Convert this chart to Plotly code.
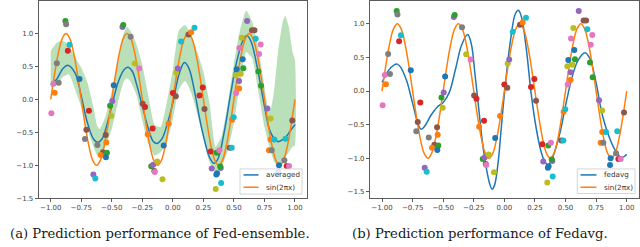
import plotly.graph_objects as go

# ---------------- data ----------------
# scatter observations (shared by both panels)
pt_x = [-0.995, -0.977, -0.968, -0.950, -0.935, -0.880, -0.874, -0.846, -0.860, -0.765,
        -0.687, -0.708, -0.720, -0.651, -0.635, -0.618, -0.572, -0.591, -0.540, -0.548,
        -0.550, -0.545, -0.514, -0.504, -0.496, -0.484, -0.413, -0.406, -0.346, -0.312,
        -0.276, -0.247, -0.228, -0.206, -0.166, -0.177, -0.161, -0.152, -0.148, -0.128,
        -0.085, -0.075, -0.035, 0.000, 0.024, 0.027, 0.040, 0.068, 0.128, 0.150,
        0.177, 0.218, 0.245, 0.259, 0.310, 0.359, 0.381, 0.318, 0.392, 0.388,
        0.362, 0.356, 0.395, 0.351, 0.466, 0.482, 0.485, 0.498, 0.518, 0.515,
        0.523, 0.542, 0.542, 0.556, 0.577, 0.572, 0.545, 0.564, 0.608, 0.648,
        0.668, 0.678, 0.719, 0.706, 0.700, 0.722, 0.774, 0.800, 0.800, 0.831,
        0.787, 0.809, 0.864, 0.869, 0.913, 0.923, 0.932, 0.951, 0.978]
pt_y = [-0.21, 0.24, 0.10, 0.55, 0.255, 1.19, 1.14, 0.83, 0.74, 0.31,
        -0.17, -0.46, -0.60, -1.14, -1.20, -0.69, -0.80, -0.845, -0.81, -0.876,
        -0.54, -0.652, -0.095, -0.248, -0.022, 0.215, 1.10, 1.13, 0.95, 0.547,
        0.47, -0.067, -0.115, -0.53, -0.443, -1.013, -0.99, -1.086, -1.10, -0.944,
        -1.21, -0.70, -0.37, 0.098, 0.05, 0.41, 0.47, 0.88, 0.985, 1.02,
        1.09, 0.06, 0.18, -0.145, -0.79, -0.81, -0.77, -1.05, -1.04, -1.02,
        -1.12, -1.14, -1.27, -1.36, -0.735, -0.735, -0.31, -0.272, 0.098, 0.367,
        0.46, 0.167, 0.28, 0.39, 0.474, 0.61, 0.78, 0.937, 1.19, 1.05,
        1.05, 0.92, 0.835, 0.69, 0.425, 0.206, -0.136, -0.29, -0.61, -0.61,
        -0.77, -0.77, -1.10, -1.00, -0.925, -0.598, -1.01, -1.01, -0.32]
pt_c = ["k", "k", "o", "y", "y", "g", "y", "c", "r", "b",
        "r", "n", "y", "p", "c", "y", "n", "o", "g", "b",
        "n", "o", "g", "l", "p", "b", "p", "g", "y", "l",
        "k", "n", "r", "o", "r", "g", "p", "n", "k", "l",
        "l", "b", "o", "r", "n", "l", "p", "c", "n", "o",
        "c", "r", "r", "n", "r", "g", "k", "p", "p", "g",
        "b", "b", "c", "l", "n", "c", "o", "c", "k", "l",
        "b", "o", "p", "l", "g", "b", "k", "l", "p", "n",
        "n", "c", "k", "k", "g", "g", "p", "l", "o", "c",
        "o", "y", "b", "b", "y", "c", "r", "k", "n"]
palette = {"b": "#1f77b4", "o": "#ff7f0e", "g": "#2ca02c", "r": "#d62728", "p": "#9467bd",
           "n": "#8c564b", "k": "#e377c2", "y": "#7f7f7f", "l": "#bcbd22", "c": "#17becf"}

# true curve
sin_x = [-1 + i / 32 for i in range(65)]
sin_y = [0, 0.383, 0.707, 0.924, 1, 0.924, 0.707, 0.383, 0, -0.383, -0.707, -0.924, -1, -0.924, -0.707, -0.383,
         0, 0.383, 0.707, 0.924, 1, 0.924, 0.707, 0.383, 0, -0.383, -0.707, -0.924, -1, -0.924, -0.707, -0.383,
         0, 0.383, 0.707, 0.924, 1, 0.924, 0.707, 0.383, 0, -0.383, -0.707, -0.924, -1, -0.924, -0.707, -0.383,
         0, 0.383, 0.707, 0.924, 1, 0.924, 0.707, 0.383, 0, -0.383, -0.707, -0.924, -1, -0.924, -0.707, -0.383,
         0]

# Fed-ensemble averaged prediction
avg_x = [-1.0, -0.95, -0.90, -0.86, -0.80, -0.75, -0.70, -0.65, -0.615, -0.58, -0.55, -0.50, -0.45,
         -0.40, -0.37, -0.33, -0.30, -0.25, -0.20, -0.16, -0.13, -0.09, -0.05, 0.0, 0.05, 0.094,
         0.13, 0.18, 0.22, 0.27, 0.30, 0.337, 0.37, 0.42, 0.47, 0.52, 0.57, 0.604, 0.64, 0.70,
         0.75, 0.80, 0.86, 0.92, 0.96, 1.0]
avg_y = [0.22, 0.31, 0.47, 0.52, 0.40, 0.05, -0.35, -0.60, -0.65, -0.60, -0.45, -0.10, 0.25,
         0.45, 0.49, 0.42, 0.25, -0.10, -0.45, -0.64, -0.67, -0.60, -0.40, -0.05, 0.38, 0.56,
         0.48, 0.10, -0.30, -0.70, -0.88, -0.97, -0.90, -0.50, 0.05, 0.55, 0.88, 0.97, 0.88, 0.40,
         -0.10, -0.50, -0.64, -0.58, -0.48, -0.38]

# Fed-ensemble uncertainty band
band_x = [-1.0, -0.95, -0.90, -0.85, -0.80, -0.75, -0.70, -0.65, -0.62, -0.60, -0.55, -0.50, -0.45,
          -0.40, -0.375, -0.35, -0.30, -0.25, -0.20, -0.15, -0.10, -0.05, 0.0, 0.05, 0.10, 0.15,
          0.20, 0.25, 0.30, 0.35, 0.40, 0.45, 0.50, 0.55, 0.60, 0.65, 0.70, 0.75, 0.78, 0.80,
          0.83, 0.86, 0.90, 0.92, 0.95, 0.98, 1.0]
band_hi = [0.74, 0.86, 0.89, 0.82, 0.64, 0.48, 0.26, -0.12, -0.40, -0.45, -0.25, 0.12, 0.60,
           1.02, 1.10, 1.05, 0.85, 0.52, 0.05, -0.38, -0.42, -0.05, 0.45, 1.05, 1.13, 0.98,
           0.72, 0.42, -0.05, -0.72, -0.55, -0.05, 0.55, 1.05, 1.35, 1.18, 0.78, 0.20, -0.12, -0.15,
           0.15, 0.70, 1.18, 1.27, 1.10, 0.72, 0.60]
band_lo = [0.18, 0.22, 0.34, 0.38, 0.15, -0.12, -0.45, -0.72, -0.85, -0.86, -0.70, -0.45, -0.05,
           0.28, 0.32, 0.28, 0.08, -0.32, -0.68, -0.85, -0.80, -0.65, -0.30, 0.15, 0.28, 0.10,
           -0.22, -0.60, -0.95, -1.10, -1.02, -0.78, -0.35, 0.25, 0.72, 0.62, 0.12, -0.42, -0.65, -0.78,
           -0.95, -1.00, -0.95, -0.88, -0.80, -0.72, -0.70]

# Fedavg prediction
fa_x = [-1.0, -0.95, -0.90, -0.875, -0.85, -0.80, -0.75, -0.70, -0.68, -0.65, -0.60, -0.55, -0.50,
        -0.45, -0.40, -0.35, -0.30, -0.27, -0.24, -0.21, -0.18, -0.15, -0.12, -0.10, -0.08, -0.05,
        -0.03, 0.0, 0.05, 0.09, 0.115, 0.14, 0.18, 0.22, 0.26, 0.30, 0.33, 0.355, 0.38, 0.42,
        0.46, 0.50, 0.55, 0.60, 0.66, 0.70, 0.75, 0.80, 0.85, 0.90, 0.95, 0.975, 1.0]
fa_y = [0.13, 0.30, 0.39, 0.40, 0.36, 0.16, -0.18, -0.52, -0.57, -0.52, -0.36, -0.24, -0.17,
        -0.02, 0.32, 0.68, 0.84, 0.70, 0.25, -0.25, -0.75, -1.12, -1.38, -1.46, -1.40, -1.05,
        -0.65, -0.05, 0.75, 1.15, 1.20, 1.10, 0.62, -0.05, -0.55, -0.90, -1.05, -1.10, -1.05, -0.85,
        -0.58, -0.22, 0.18, 0.45, 0.57, 0.48, 0.12, -0.35, -0.65, -0.86, -0.98, -0.98, -0.94]

legend_a = ["averaged", "sin(2πx)"]
legend_b = ["fedavg", "sin(2πx)"]
captions = ["(a) Prediction performance of Fed-ensemble.", "(b) Prediction performance of Fedavg."]
x_ticks = [-1.0, -0.75, -0.5, -0.25, 0.0, 0.25, 0.5, 0.75, 1.0]
y_ticks = [-1.5, -1.0, -0.5, 0.0, 0.5, 1.0]

# ---------------- figure ----------------
W, H = 640, 247
BLUE = "#1f77b4"
ORANGE = "#ff7f0e"
colors = [palette[c] for c in pt_c]

fig = go.Figure()

# panel (a)
fig.add_trace(go.Scatter(x=band_x + band_x[::-1], y=band_hi + band_lo[::-1], fill="toself",
                         fillcolor="rgba(44,160,44,0.33)", line=dict(width=0, shape="spline", smoothing=0.5),
                         mode="lines", showlegend=False, hoverinfo="skip", xaxis="x", yaxis="y"))
fig.add_trace(go.Scatter(x=avg_x, y=avg_y, mode="lines", name=legend_a[0], showlegend=False,
                         line=dict(color=BLUE, width=1.5, shape="spline"), xaxis="x", yaxis="y"))
fig.add_trace(go.Scatter(x=sin_x, y=sin_y, mode="lines", name=legend_a[1], showlegend=False,
                         line=dict(color=ORANGE, width=1.5, shape="spline"), xaxis="x", yaxis="y"))
fig.add_trace(go.Scatter(x=pt_x, y=pt_y, mode="markers", marker=dict(color=colors, size=6, line=dict(width=0)),
                         showlegend=False, xaxis="x", yaxis="y"))

# panel (b)
fig.add_trace(go.Scatter(x=fa_x, y=fa_y, mode="lines", name=legend_b[0], showlegend=False,
                         line=dict(color=BLUE, width=1.5, shape="spline"), xaxis="x2", yaxis="y2"))
fig.add_trace(go.Scatter(x=sin_x, y=sin_y, mode="lines", name=legend_b[1], showlegend=False,
                         line=dict(color=ORANGE, width=1.5, shape="spline"), xaxis="x2", yaxis="y2"))
fig.add_trace(go.Scatter(x=pt_x, y=pt_y, mode="markers", marker=dict(color=colors, size=6, line=dict(width=0)),
                         showlegend=False, xaxis="x2", yaxis="y2"))

tickfont = dict(family="DejaVu Sans", size=7, color="#444")
ax_common = dict(showgrid=False, zeroline=False, showline=True, mirror=True, linecolor="#333", linewidth=0.8,
                 ticks="outside", ticklen=3, tickwidth=0.8, tickcolor="#333", tickfont=tickfont)


def px(x):
    return x / W


def py(y):
    return 1 - y / H


# compact matplotlib-style legends (box, line samples, labels)
shapes = []
annotations = []
legend_specs = [
    (240, 302, 171.7, 197.3, 243.5, 258.5, 264, [177.8, 190.3], legend_a),
    (577.3, 635, 171.7, 196.7, 580.5, 596.5, 601.5, [177.8, 190.3], legend_b),
]
for (bx0, bx1, by0, by1, lx0, lx1, tx, ys, labels) in legend_specs:
    shapes.append(dict(type="rect", xref="paper", yref="paper", x0=px(bx0), x1=px(bx1), y0=py(by1), y1=py(by0),
                       fillcolor="rgba(255,255,255,0.85)", line=dict(color="#cccccc", width=0.8), layer="above"))
    for yy, lab, col in zip(ys, labels, [BLUE, ORANGE]):
        shapes.append(dict(type="line", xref="paper", yref="paper", x0=px(lx0), x1=px(lx1), y0=py(yy), y1=py(yy),
                           line=dict(color=col, width=1.5), layer="above"))
        annotations.append(dict(text=lab, x=px(tx), y=py(yy), xref="paper", yref="paper", showarrow=False,
                                xanchor="left", yanchor="middle",
                                font=dict(family="DejaVu Sans", size=7.2, color="#333")))

for cap, cx in zip(captions, [0.25, 0.75]):
    annotations.append(dict(text=cap, x=cx, y=py(237), xref="paper", yref="paper", showarrow=False,
                            xanchor="center", yanchor="middle",
                            font=dict(family="DejaVu Serif", size=13.2, color="#1a1a1a")))

ydom = [0.1842, 0.9947]
fig.update_layout(
    width=W, height=H, margin=dict(l=0, r=0, t=0, b=0),
    paper_bgcolor="white", plot_bgcolor="white", showlegend=False,
    xaxis=dict(domain=[0.0602, 0.48], range=[-1.1, 1.1], tickvals=x_ticks, tickformat=".2f", anchor="y", **ax_common),
    yaxis=dict(domain=ydom, range=[-1.5, 1.49], tickvals=y_ticks, tickformat=".1f", anchor="x", **ax_common),
    xaxis2=dict(domain=[0.5778, 0.9983], range=[-1.1, 1.1], tickvals=x_ticks, tickformat=".2f", anchor="y2", **ax_common),
    yaxis2=dict(domain=ydom, range=[-1.595, 1.335], tickvals=y_ticks, tickformat=".1f", anchor="x2", **ax_common),
    shapes=shapes,
    annotations=annotations,
)

fig.write_html("out.html", config={"displayModeBar": False, "staticPlot": True},
               post_script="document.body.style.margin='0px';document.body.style.overflow='hidden';")
